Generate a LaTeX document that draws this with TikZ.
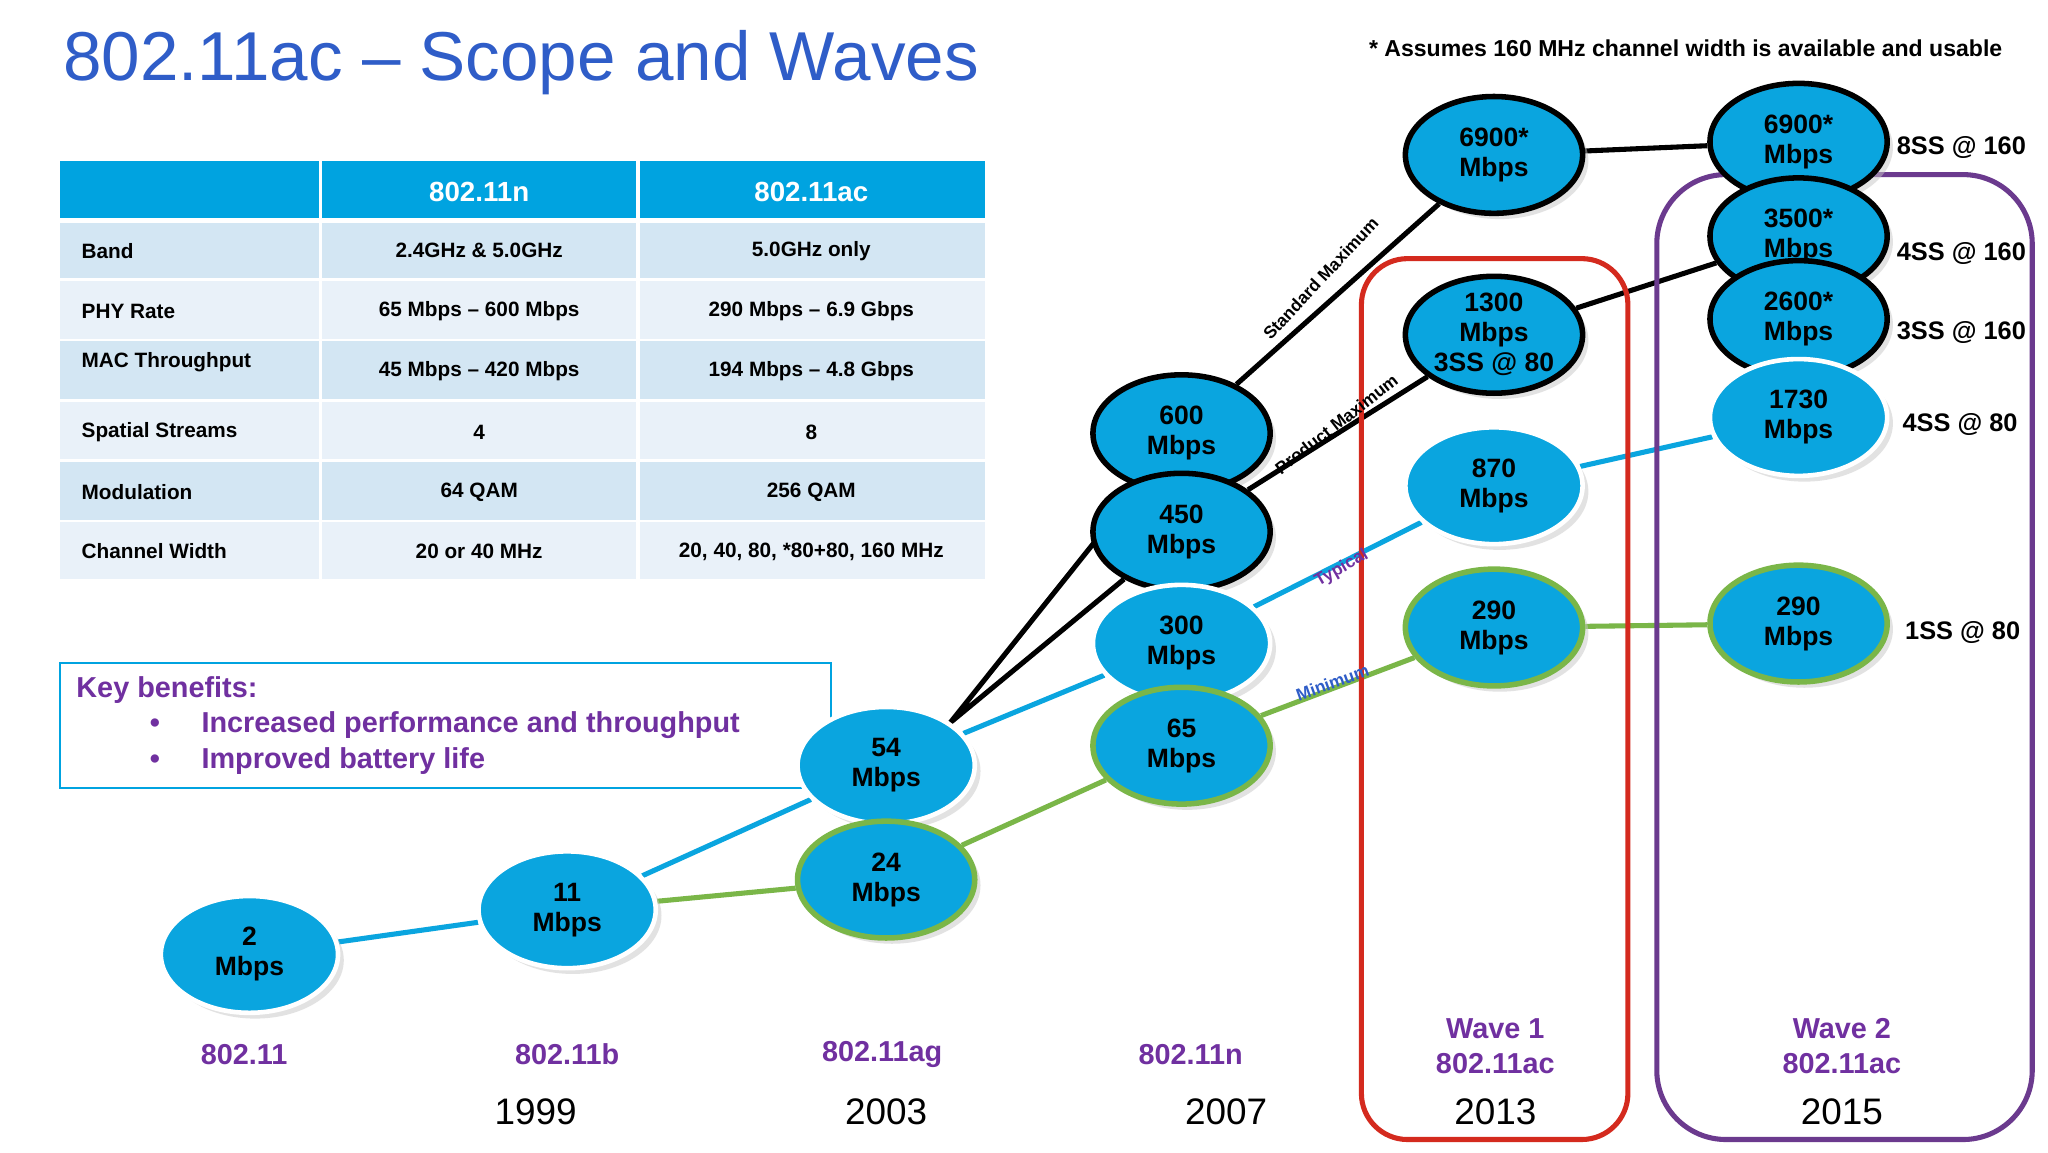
\documentclass[tikz,border=0pt]{standalone}
\usepackage{fontspec}
\setmainfont{Liberation Sans}
\usetikzlibrary{shapes.geometric,shadows}
\definecolor{ebl}{HTML}{0AA5DF}
\definecolor{egr}{HTML}{7AB648}
\definecolor{pur}{HTML}{7030A0}
\definecolor{ttl}{HTML}{2F5DC8}
\definecolor{hdr}{HTML}{00A3E0}
\definecolor{rowa}{HTML}{D3E6F3}
\definecolor{rowb}{HTML}{E9F1F9}
\definecolor{wred}{HTML}{D42A1E}
\definecolor{wpur}{HTML}{6B3A8E}
\pgfdeclarelayer{background}
\pgfsetlayers{background,main}
\tikzset{
 ell/.style={ellipse,fill=ebl,minimum width=2.7cm,minimum height=1.78cm,inner sep=0pt,align=center,
   font=\fontsize{11.5}{13}\selectfont\bfseries,drop shadow={fill=black!22,shadow xshift=2.5pt,shadow yshift=-2.5pt}},
 ewh/.style={ell,draw=white,line width=2pt},
 ebk/.style={ell,draw=black,line width=2.4pt},
 egn/.style={ell,draw=egr,line width=2.4pt},
 lblue/.style={ebl,line width=2.2pt},
 lgreen/.style={egr,line width=2.2pt},
 lblack/.style={black,line width=2.2pt},
 tcell/.style={font=\fontsize{9}{11}\selectfont\bfseries},
 bot/.style={pur,font=\fontsize{12.5}{15}\selectfont\bfseries,align=center},
 yr/.style={font=\fontsize{16}{18}\selectfont},
 side/.style={font=\fontsize{11}{13}\selectfont\bfseries,anchor=center},
 elab/.style={font=\fontsize{7.5}{9}\selectfont\bfseries},
}
\begin{document}
\begin{tikzpicture}[x=0.02cm,y=-0.02cm]
\useasboundingbox (0,0) rectangle (1560,878);
\begin{pgfonlayer}{background}
\fill[white] (0,0) rectangle (1560,878);
\end{pgfonlayer}
\node[ttl,font=\fontsize{30}{34}\selectfont,anchor=west] (title) at (42,48) {802.11ac -- Scope and Waves};
\node[font=\fontsize{10}{12}\selectfont\bfseries] (note) at (1284,37) {* Assumes 160 MHz channel width is available and usable};
% table
\fill[hdr] (46,123) rectangle (750,166);
\foreach \ya/\yb/\c in {170/212/rowa,214/258/rowb,260/304/rowa,306/350/rowb,352/396/rowa,398/441/rowb}
  \fill[\c] (46,\ya) rectangle (750,\yb);
\draw[white,line width=1.5pt] (244,123) -- (244,441) (486,123) -- (486,441);
\node[white,font=\fontsize{12}{14}\selectfont\bfseries] (h1) at (365,146) {802.11n};
\node[white,font=\fontsize{12}{14}\selectfont\bfseries] (h2) at (618,146) {802.11ac};
\foreach \y/\a/\b/\cc [count=\i] in {191/Band/2.4GHz \& 5.0GHz/5.0GHz only,
  237/PHY Rate/65 Mbps -- 600 Mbps/290 Mbps -- 6.9 Gbps,
  283/{}/45 Mbps -- 420 Mbps/194 Mbps -- 4.8 Gbps,
  329/Spatial Streams/4/8,
  375/Modulation/64 QAM/256 QAM,
  420/Channel Width/20 or 40 MHz/{20, 40, 80, *80+80, 160 MHz}}{
  \node[tcell,anchor=west] (ra\i) at (56,\y) {\a};
  \node[tcell] (rb\i) at (365,\y) {\b};
  \node[tcell] (rc\i) at (618,\y) {\cc};
}
\node[tcell,anchor=west] (mac) at (56,276) {MAC Throughput};
% key benefits
\draw[hdr,line width=0.8pt] (46,505) rectangle (633,600);
\node[pur,font=\fontsize{12.5}{15}\selectfont\bfseries,anchor=west] (kb) at (52,526) {Key benefits:};
\node[pur,font=\fontsize{12.5}{15}\selectfont\bfseries,anchor=west] (kb1) at (108,552) {•\hspace{18pt}Increased performance and throughput};
\node[pur,font=\fontsize{12.5}{15}\selectfont\bfseries,anchor=west] (kb2) at (108,580) {•\hspace{18pt}Improved battery life};
% wave boxes
\draw[wred,line width=2.2pt,rounded corners=20] (1037,197) rectangle (1240,868);
\draw[wpur,line width=2.2pt,rounded corners=30] (1262,133) rectangle (1548,868);
% nodes
\node[ewh] (e2) at (190,727) {2\\Mbps};
\node[ewh] (e11) at (432,693) {11\\Mbps};
\node[ewh] (e54) at (675,583) {54\\Mbps};
\node[egn] (e24) at (675,670) {24\\Mbps};
\node[ebk] (e600) at (900,330) {600\\Mbps};
\node[ebk] (e450) at (900,405) {450\\Mbps};
\node[ewh] (e300) at (900,490) {300\\Mbps};
\node[egn] (e65) at (900,568) {65\\Mbps};
\node[ebk] (e6900a) at (1138,118) {6900*\\Mbps};
\node[ebk] (e1300) at (1138,255) {1300\\Mbps\\3SS @ 80};
\node[ewh] (e870) at (1138,370) {870\\Mbps};
\node[egn] (e290a) at (1138,478) {290\\Mbps};
\node[ebk] (e6900b) at (1370,108) {6900*\\Mbps};
\node[ebk] (e3500) at (1370,180) {3500*\\Mbps};
\node[ebk] (e2600) at (1370,243) {2600*\\Mbps};
\node[ewh] (e1730) at (1370,318) {1730\\Mbps};
\node[egn] (e290b) at (1370,475) {290\\Mbps};
\begin{pgfonlayer}{background}
\draw[lblue] (e2) -- (e11) (e11) -- (e54) (e54) -- (e300) (e300) -- (e870) (e870) -- (e1730);
\draw[lgreen] (e11) -- (e24) (e24) -- (e65) (e65) -- (e290a) (e290a) -- (e290b);
\draw[lblack] (e54.north east) -- (e600) (e54.north east) -- (e450) (e600) -- (e6900a) (e450) -- (e1300) (e1300) -- (e3500) (e6900a) -- (e6900b);
\end{pgfonlayer}
\node[elab,rotate=47] (sm) at (1006,212) {Standard Maximum};
\node[elab,rotate=38] (pm) at (1018,323) {Product Maximum};
\node[elab,rotate=30,pur] (ty) at (1022,433) {Typical};
\node[elab,rotate=20,ttl] (mi) at (1015,520) {Minimum};
% side labels
\node[side] (s1) at (1494,112) {8SS @ 160};
\node[side] (s2) at (1494,193) {4SS @ 160};
\node[side] (s3) at (1494,253) {3SS @ 160};
\node[side] (s4) at (1493,323) {4SS @ 80};
\node[side] (s5) at (1495,482) {1SS @ 80};
% bottom
\node[bot] (b1) at (186,803) {802.11};
\node[bot] (b2) at (432,803) {802.11b};
\node[bot] (b3) at (672,803) {802.11ag};
\node[bot] (b4) at (907,803) {802.11n};
\node[bot] (b5) at (1139,797) {Wave 1\\802.11ac};
\node[bot] (b6) at (1403,797) {Wave 2\\802.11ac};
\node[yr] (y1) at (408,847) {1999};
\node[yr] (y2) at (675,847) {2003};
\node[yr] (y3) at (934,847) {2007};
\node[yr] (y4) at (1139,847) {2013};
\node[yr] (y5) at (1403,847) {2015};
\end{tikzpicture}
\end{document}
